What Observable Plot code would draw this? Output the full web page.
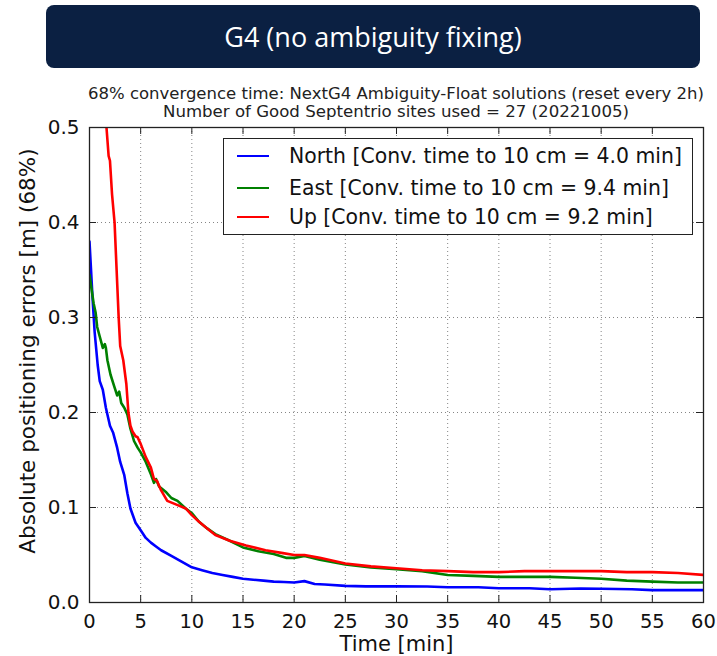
<!DOCTYPE html>
<html>
<head>
<meta charset="utf-8">
<script src="https://cdn.jsdelivr.net/npm/d3@7"></script>
<script src="https://cdn.jsdelivr.net/npm/@observablehq/plot@0.6"></script>
<style>
  html, body { margin: 0; padding: 0; background: #fff; }
  #wrap { position: relative; width: 717px; height: 656px; overflow: hidden; }
  #header {
    position: absolute; left: 46px; top: 5px; width: 654px; height: 63px;
    background: #0b2042; border-radius: 8px; color: #fff;
    font-family: "Open Sans", sans-serif; font-size: 27px;
    display: flex; align-items: center; justify-content: center;
  }
  .sub {
    position: absolute; left: 0; top: 0; text-align: left;
    font-family: "DejaVu Sans", sans-serif; font-size: 15px; color: #222;
    white-space: nowrap; line-height: 1; transform-origin: 0 0;
  }
  #legend {
    position: absolute; left: 223px; top: 138px; width: 468px; height: 95px;
    border: 1.3px solid #222; background: #fff;
    font-family: "DejaVu Sans", sans-serif; font-size: 20.4px; color: #111;
  }
  .row { position: absolute; left: 0; height: 24px; display: flex; align-items: center; white-space: nowrap; }
  .swatch { display: inline-block; width: 32px; height: 2.6px; margin-left: 13px; margin-right: 20px; }
  #chart { position: absolute; left: 0; top: 0; }
</style>
</head>
<body>
<div id="wrap">
  <div id="chart"></div>
  <div id="header"></div>
  <div class="sub" id="sub1"></div>
  <div class="sub" id="sub2"></div>
  <div id="legend"></div>
</div>
<script>
// ---- Text ----
const titleText = "G4 (no ambiguity fixing)";
const subtitleLines = [
  "68% convergence time: NextG4 Ambiguity-Float solutions (reset every 2h)",
  "Number of Good Septentrio sites used = 27 (20221005)"
];
const xLabel = "Time [min]";
const yLabel = "Absolute positioning errors [m] (68%)";
const seriesNames = ["North", "East", "Up"];
const legendLabels = [
  "North [Conv. time to 10 cm = 4.0 min]",
  "East [Conv. time to 10 cm = 9.4 min]",
  "Up [Conv. time to 10 cm = 9.2 min]"
];
const seriesColors = ["#0000ff", "#008000", "#ff0000"];

// ---- Ticks ----
const xTicks = [0, 5, 10, 15, 20, 25, 30, 35, 40, 45, 50, 55, 60];
const yTicks = [0.0, 0.1, 0.2, 0.3, 0.4, 0.5];

// ---- Series (time in min, error in m) ----
const northT = [0, 0.15, 0.3, 0.5, 0.8, 1.0, 1.3, 1.6, 2.0, 2.3, 2.7, 3.0, 3.4, 3.7, 4.0, 4.5, 5.0, 5.5, 6.0, 6.5, 7.0, 8.0, 9.0, 10, 11, 12, 13, 14, 15, 16, 17, 18, 19, 20, 21, 22, 23, 25, 27, 30, 33, 35, 38, 40, 43, 45, 48, 50, 53, 55, 58, 60];
const northV = [0.38, 0.35, 0.32, 0.285, 0.25, 0.233, 0.224, 0.205, 0.186, 0.179, 0.163, 0.148, 0.134, 0.115, 0.099, 0.084, 0.076, 0.068, 0.063, 0.059, 0.055, 0.049, 0.043, 0.037, 0.034, 0.031, 0.029, 0.027, 0.025, 0.024, 0.023, 0.022, 0.0215, 0.021, 0.0225, 0.0195, 0.019, 0.0175, 0.017, 0.017, 0.0168, 0.016, 0.016, 0.015, 0.015, 0.014, 0.0148, 0.0145, 0.014, 0.013, 0.013, 0.013];

const eastT = [0, 0.2, 0.4, 0.6, 0.75, 1.0, 1.3, 1.5, 1.6, 1.75, 2.05, 2.4, 2.7, 2.9, 3.1, 3.4, 3.7, 4.0, 4.35, 4.7, 5.0, 5.5, 6.0, 6.3, 6.5, 6.8, 7.5, 8.0, 8.6, 9.4, 10, 10.7, 11.5, 12.3, 13.7, 15, 16.5, 18, 19.2, 20, 21, 22.5, 25, 27.5, 30, 32.5, 35, 37.5, 40, 42.5, 45, 47.5, 50, 52.5, 55, 57.5, 60];
const eastV = [0.345, 0.33, 0.315, 0.305, 0.29, 0.28, 0.268, 0.272, 0.268, 0.255, 0.24, 0.228, 0.218, 0.222, 0.21, 0.205, 0.198, 0.183, 0.17, 0.163, 0.158, 0.148, 0.135, 0.126, 0.13, 0.122, 0.116, 0.11, 0.107, 0.099, 0.094, 0.085, 0.078, 0.072, 0.065, 0.058, 0.054, 0.051, 0.047, 0.047, 0.049, 0.045, 0.040, 0.037, 0.035, 0.033, 0.029, 0.028, 0.027, 0.027, 0.027, 0.026, 0.025, 0.023, 0.022, 0.021, 0.021];

const upT = [1.4, 1.66, 1.87, 2.0, 2.2, 2.45, 2.65, 2.85, 3.0, 3.3, 3.6, 3.8, 4.0, 4.2, 4.5, 4.7, 5.0, 5.5, 6.0, 6.3, 6.6, 7.0, 7.6, 8.5, 9.4, 10, 10.7, 11.5, 12.3, 13.7, 15.3, 17.2, 18.9, 20, 21, 22.5, 25, 27.5, 30, 32.5, 35, 37.5, 40, 42.5, 45, 47.5, 50, 52.5, 55, 57.5, 60];
const upV = [0.54, 0.5, 0.47, 0.465, 0.43, 0.4, 0.35, 0.3, 0.27, 0.255, 0.23, 0.2, 0.186, 0.18, 0.175, 0.174, 0.167, 0.153, 0.142, 0.13, 0.128, 0.118, 0.107, 0.103, 0.099, 0.092, 0.085, 0.078, 0.071, 0.065, 0.06, 0.055, 0.052, 0.05, 0.05, 0.047, 0.041, 0.038, 0.036, 0.034, 0.033, 0.032, 0.032, 0.033, 0.033, 0.033, 0.033, 0.032, 0.032, 0.031, 0.029];

const zip = (ts, vs, name) => ts.map((t, i) => ({t, v: vs[i], name}));
const seriesData = [
  zip(northT, northV, seriesNames[0]),
  zip(eastT, eastV, seriesNames[1]),
  zip(upT, upV, seriesNames[2])
];

// ---- Layout ----
const W = 717, H = 656;
const mTop = 127, mBottom = 54, mLeft = 89, mRight = 14;
const frameH = H - mTop - mBottom, frameW = W - mLeft - mRight;
const tickLen = 7;
const ink = "#222";

const chart = Plot.plot({
  width: W, height: H,
  marginTop: mTop, marginBottom: mBottom, marginLeft: mLeft, marginRight: mRight,
  style: {fontFamily: "DejaVu Sans, sans-serif", color: "#111", background: "#fff"},
  x: {domain: [0, 60]},
  y: {domain: [0, 0.5]},
  marks: [
    Plot.gridX(xTicks, {stroke: "#555", strokeOpacity: 0.9, strokeWidth: 0.8, strokeDasharray: "1,3"}),
    Plot.gridY(yTicks, {stroke: "#555", strokeOpacity: 0.9, strokeWidth: 0.8, strokeDasharray: "1,3"}),
    ...seriesData.map((d, i) => Plot.line(d, {x: "t", y: "v", stroke: seriesColors[i], strokeWidth: 2.6, clip: true})),
    Plot.tickX(xTicks, {x: d => d, insetTop: frameH - tickLen, stroke: ink}),
    Plot.tickX(xTicks, {x: d => d, insetBottom: frameH - tickLen, stroke: ink}),
    Plot.tickY(yTicks, {y: d => d, insetRight: frameW - tickLen, stroke: ink}),
    Plot.tickY(yTicks, {y: d => d, insetLeft: frameW - tickLen, stroke: ink}),
    Plot.frame({stroke: ink, strokeWidth: 1.3}),
    Plot.axisX(xTicks, {tickSize: 0, tickPadding: 12, fontSize: 19.5, label: null}),
    Plot.axisY(yTicks, {tickSize: 0, tickPadding: 10, fontSize: 20, tickFormat: d3.format(".1f"), label: null}),
    Plot.text([xLabel], {frameAnchor: "bottom", lineAnchor: "middle", dy: 42, fontSize: 21, fill: "#111"}),
    Plot.text([yLabel], {frameAnchor: "left", textAnchor: "middle", lineAnchor: "middle", dx: -61, dy: -14, rotate: -90, fontSize: 21.5, fill: "#111"})
  ]
});
document.getElementById("chart").appendChild(chart);

// ---- Header, subtitle, legend ----
document.getElementById("header").textContent = titleText;
const subTargets = [{cx: 396, top: 87, w: 616}, {cx: 396, top: 105, w: 466}];
subtitleLines.forEach((line, i) => {
  const el = document.getElementById("sub" + (i + 1));
  el.textContent = line;
  const nat = el.getBoundingClientRect().width;
  const s = subTargets[i].w / nat;
  el.style.left = (subTargets[i].cx - subTargets[i].w / 2) + "px";
  el.style.top = subTargets[i].top + "px";
  el.style.transform = `scaleX(${s})`;
});
const legend = document.getElementById("legend");
const rowTops = [5, 37, 66];
legendLabels.forEach((lab, i) => {
  const row = document.createElement("div");
  row.className = "row";
  row.style.top = rowTops[i] + "px";
  const sw = document.createElement("span");
  sw.className = "swatch";
  sw.style.background = seriesColors[i];
  const tx = document.createElement("span");
  tx.textContent = lab;
  row.appendChild(sw);
  row.appendChild(tx);
  legend.appendChild(row);
});
</script>
</body>
</html>
